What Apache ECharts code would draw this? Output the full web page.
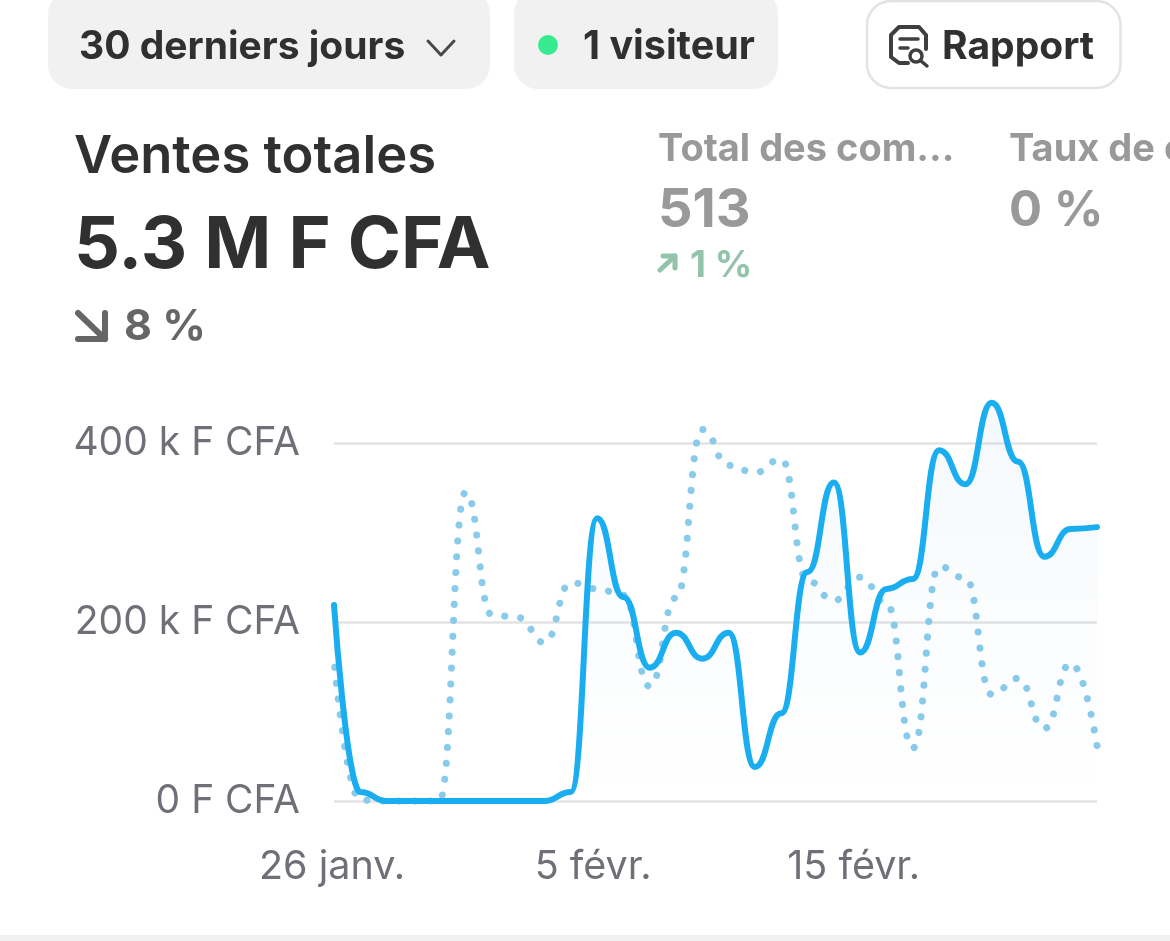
<!DOCTYPE html>
<html><head><meta charset="utf-8">
<style>html,body{margin:0;padding:0;background:#fff;overflow:hidden}#c{width:1170px;height:941px}</style>
<script src="https://cdn.jsdelivr.net/npm/echarts@6/dist/echarts.min.js"></script>
</head><body><div id="c"></div>
<script>
const categories = ['26 janv.','27 janv.','28 janv.','29 janv.','30 janv.','31 janv.','1 févr.','2 févr.','3 févr.','4 févr.','5 févr.','6 févr.','7 févr.','8 févr.','9 févr.','10 févr.','11 févr.','12 févr.','13 févr.','14 févr.','15 févr.','16 févr.','17 févr.','18 févr.','19 févr.','20 févr.','21 févr.','22 févr.','23 févr.','24 févr.'];
const currentPeriod = [219,10,0,0,0,0,0,0,0,10,316,228,149,188,159,188,38,98,256,356,166,237,248,392,354,445,379,273,304,306];
const previousPeriod = [158,1,0,0,0,345,208,205,177,244,237,230,128,227,415,375,367,382,246,224,250,221,59,262,249,119,137,81,154,62];
const yTicks = {0:'0 F CFA',200:'200 k F CFA',400:'400 k F CFA'};
const F = 'Inter, sans-serif';
const txt = (text,x,y,size,weight,fill)=>({type:'text',silent:true,style:{text,x,y,fill,font:`${weight} ${size}px ${F}`,textVerticalAlign:'middle',verticalAlign:'middle'}});
const pill = (x,w)=>({type:'rect',silent:true,shape:{x,y:-10,width:w,height:99,r:24},style:{fill:'#f1f1f1'}});
const stroke = (points,color,width)=>({type:'polyline',silent:true,shape:{points},style:{stroke:color,lineWidth:width,fill:null,lineCap:'round',lineJoin:'round'}});
const chart = echarts.init(document.getElementById('c'));
chart.setOption({
  animation:false,
  backgroundColor:'#fff',
  grid:{left:334,right:73,top:443,bottom:140,containLabel:false},
  xAxis:{type:'category',data:categories,boundaryGap:false,
    axisLine:{show:false},axisTick:{show:false},splitLine:{show:false},
    axisLabel:{interval:9,margin:46,color:'#6f7077',fontFamily:'Inter',fontSize:39.5,hideOverlap:false,
      formatter:(v)=>v==='26 janv.'?`{a|${v}}`:v==='5 févr.'?`{b|${v}}`:`{c|${v}}`,
      rich:{a:{padding:[0,4,0,0],fontFamily:'Inter',fontSize:39.5,color:'#6f7077'},
            b:{padding:[0,8,0,0],fontFamily:'Inter',fontSize:39.5,color:'#6f7077'},
            c:{padding:[0,13,0,0],fontFamily:'Inter',fontSize:39.5,color:'#6f7077'}}}},
  yAxis:{type:'value',min:0,max:400,interval:200,
    axisLine:{show:false},axisTick:{show:false},
    splitLine:{lineStyle:{color:'#e3e3e5',width:2.5}},
    axisLabel:{margin:34,color:'#6f7077',fontFamily:'Inter',fontSize:39,formatter:v=>yTicks[v]}},
  series:[
    {type:'line',name:'Période précédente',data:previousPeriod,smooth:0.5,smoothMonotone:'x',showSymbol:false,clip:false,z:2,
      lineStyle:{color:'#88cbea',width:7,type:[0.1,15.8],dashOffset:8,cap:'round'}},
    {type:'line',name:'Ventes totales',data:currentPeriod,smooth:0.5,smoothMonotone:'x',showSymbol:false,clip:false,z:3,
      lineStyle:{color:'#1aadf0',width:6,cap:'round'},
      areaStyle:{color:{type:'linear',x:0,y:0,x2:0,y2:1,colorStops:[{offset:0,color:'rgba(40,130,200,0.065)'},{offset:1,color:'rgba(40,130,200,0)'}]}}}
  ],
  graphic:{elements:[
    pill(48,442),pill(514,264),
    {type:'rect',silent:true,shape:{x:867,y:1,width:253.5,height:87,r:24},style:{fill:'#fff',stroke:'#e3e3e3',lineWidth:2.5}},
    txt('30 derniers jours',79,47,39,650,'#303030'),
    stroke([[428,41],[441,55],[454,41]],'#4a4a4a',3),
    {type:'circle',silent:true,shape:{cx:548,cy:45,r:10},style:{fill:'#36ea90'}},
    txt('1 visiteur',583,47,39.5,650,'#303030'),
    stroke([[908,63],[899,63],[891,57],[891,35],[899,27],[919,27],[926,35],[926,49]],'#3f3f3f',4),
    stroke([[900,39],[918,39]],'#3f3f3f',3.5),stroke([[900,48],[908,48]],'#3f3f3f',3.5),
    {type:'circle',silent:true,shape:{cx:916,cy:56,r:6},style:{fill:'none',stroke:'#3f3f3f',lineWidth:3.5}},
    stroke([[921,61],[927,66]],'#3f3f3f',3.5),
    txt('Rapport',942,47,39,650,'#303030'),
    txt('Ventes totales',74,157,52.5,620,'#303030'),
    txt('5.3 M F CFA',74,246,72,750,'#303030'),
    stroke([[78,313],[105,339]],'#666',6),stroke([[78,339],[105,339],[105,313]],'#666',6),
    txt('8 %',124,327,43,650,'#666'),
    txt('Total des com...',658,150,38,650,'#999'),
    txt('513',658,211,54,720,'#999'),
    stroke([[660,270],[675,256]],'#93c4ab',5),stroke([[663,256],[675,256],[675,268]],'#93c4ab',5),
    txt('1 %',690,266,37,650,'#93c4ab'),
    txt('Taux de conversion',1009,150,38,650,'#999'),
    txt('0 %',1009,211,49,720,'#999'),
    {type:'rect',silent:true,shape:{x:0,y:935,width:1170,height:6},style:{fill:'#f1f1f1'}}
  ]}
});
</script></body></html>
